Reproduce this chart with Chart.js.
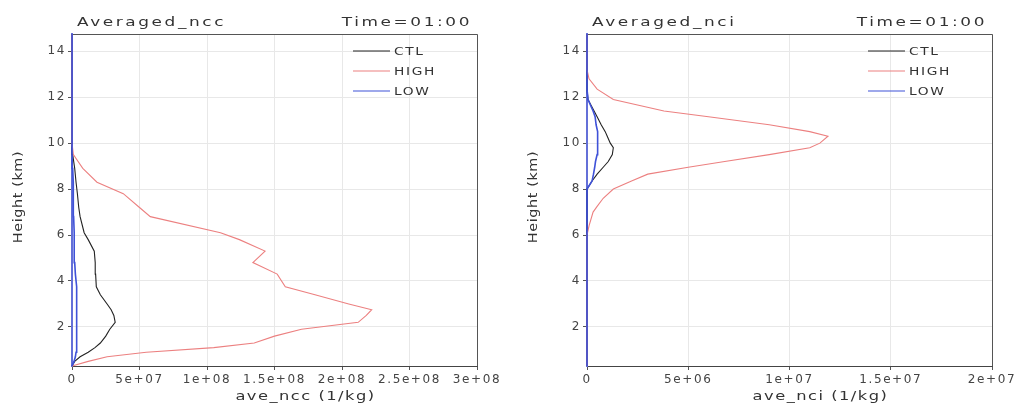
<!DOCTYPE html>
<html>
<head>
<meta charset="utf-8">
<script src="https://cdn.jsdelivr.net/npm/chart.js@4"></script>
<style>
  body { margin: 0; background: #fff; overflow: hidden; }
  .panel { position: absolute; top: 0; width: 511px; height: 412px; }
  #left { left: 0; }
  #right { left: 511px; }
</style>
</head>
<body>
<div class="panel" id="left"><canvas id="ncc" width="511" height="412"></canvas></div>
<div class="panel" id="right"><canvas id="nci" width="511" height="412"></canvas></div>
<script>
// Heights (km) and profiles
const heightsNcc = [0.3, 0.5, 0.7, 0.9, 1.1, 1.3, 1.6, 1.9, 2.2, 2.5, 2.75, 3.0, 3.4, 3.75, 4.3, 4.8, 5.3, 5.8, 6.1, 6.8, 7.2, 7.8, 8.3, 8.9, 9.5, 10.0, 11, 12, 13, 14, 14.75];
const nccCtl  = [0, 2e6, 6e6, 1.2e7, 1.7e7, 2.1e7, 2.5e7, 2.8e7, 3.2e7, 3.1e7, 2.9e7, 2.6e7, 2.1e7, 1.8e7, 1.75e7, 1.72e7, 1.65e7, 1.2e7, 9e6, 6e6, 5e6, 4e6, 3e6, 2e6, 5e5, 0, 0, 0, 0, 0, 0];
const nccHigh = [0, 1.2e7, 2.6e7, 5.5e7, 1.05e8, 1.35e8, 1.5e8, 1.7e8, 2.12e8, 2.18e8, 2.22e8, 2.05e8, 1.8e8, 1.58e8, 1.52e8, 1.34e8, 1.43e8, 1.24e8, 1.1e8, 5.8e7, 5.0e7, 3.8e7, 1.85e7, 8e6, 1e6, 0, 0, 0, 0, 0, 0];
const nccLow  = [0, 1.5e6, 2.5e6, 3e6, 3.5e6, 3.5e6, 3.5e6, 3.5e6, 3.5e6, 3.5e6, 3.5e6, 3.5e6, 3.5e6, 3e6, 2.5e6, 2e6, 1.8e6, 1.6e6, 1.5e6, 1.2e6, 1.1e6, 1e6, 8e5, 5e5, 3e5, 0, 0, 0, 0, 0, 0];

const heightsNci = [0.3, 2, 4, 6, 6.4, 7.0, 7.25, 7.6, 8.0, 8.35, 8.65, 8.95, 9.2, 9.5, 9.8, 10.0, 10.3, 10.5, 10.8, 11.15, 11.4, 11.9, 12.35, 12.8, 13.2, 14, 14.75];
const nciCtl  = [0, 0, 0, 0, 0, 0, 0, 0, 0, 2.5e5, 5e5, 8e5, 1.05e6, 1.25e6, 1.3e6, 1.15e6, 1.0e6, 9e5, 7e5, 5e5, 3.5e5, 5e4, 0, 0, 0, 0, 0];
const nciHigh = [0, 0, 0, 0, 1e5, 3e5, 5e5, 8e5, 1.3e6, 2.2e6, 3.0e6, 5.0e6, 6.8e6, 9.0e6, 1.1e7, 1.15e7, 1.19e7, 1.1e7, 9.0e6, 6.0e6, 3.8e6, 1.3e6, 5e5, 1e5, 0, 0, 0];
const nciLow  = [0, 0, 0, 0, 0, 0, 0, 0, 0, 2.5e5, 3.2e5, 3.8e5, 4.2e5, 5e5, 5.4e5, 5.4e5, 5.2e5, 5e5, 4.5e5, 4e5, 3e5, 5e4, 0, 0, 0, 0, 0];

const seriesNames = ['CTL', 'HIGH', 'LOW'];
const heightTicks = [2, 4, 6, 8, 10, 12, 14];
const heightTickLabels = ['2', '4', '6', '8', '10', '12', '14'];
const nccTicks = [0, 5e7, 1e8, 1.5e8, 2e8, 2.5e8, 3e8];
const nccTickLabels = ['0', '5e+07', '1e+08', '1.5e+08', '2e+08', '2.5e+08', '3e+08'];
const nciTicks = [0, 5e6, 1e7, 1.5e7, 2e7];
const nciTickLabels = ['0', '5e+06', '1e+07', '1.5e+07', '2e+07'];

const lineColors = ['#222222', '#ec8080', '#3f52d8'];
const FONT = '"DejaVu Sans", sans-serif';

// wide, GrADS-like lettering: stretch the glyphs sideways
function wideText(ctx, text, x, y, align, sx, spacing) {
    ctx.save();
    ctx.letterSpacing = spacing + 'px';
    ctx.textAlign = 'left';
    const w = ctx.measureText(text).width * sx;
    let x0 = x;
    if (align === 'center') x0 = x - w / 2;
    if (align === 'right') x0 = x - w;
    ctx.translate(x0, y);
    ctx.scale(sx, 1);
    ctx.fillText(text, 0, 0);
    ctx.restore();
}

// Draws frame, titles, legend and axis titles
const decor = {
    id: 'decor',
    beforeDraw(chart) {
        chart.ctx.letterSpacing = '1.6px';
    },
    beforeDatasetsDraw(chart) {
        const { ctx, chartArea: a } = chart;
        ctx.save();
        ctx.strokeStyle = '#555';
        ctx.lineWidth = 1;
        ctx.beginPath();
        ctx.moveTo(a.left, a.top + 0.5);
        ctx.lineTo(a.right + 0.5, a.top + 0.5);
        ctx.lineTo(a.right + 0.5, a.bottom);
        ctx.stroke();
        ctx.restore();
    },
    afterDraw(chart, args, opts) {
        const { ctx, chartArea: a } = chart;
        ctx.save();
        ctx.fillStyle = '#333';
        ctx.textBaseline = 'alphabetic';

        ctx.font = '13px ' + FONT;
        wideText(ctx, opts.title, a.left + 5, 26, 'left', 1.3, 2);
        wideText(ctx, 'Time=01:00', a.right - 5, 26, 'right', 1.3, 2);

        ctx.textBaseline = 'middle';
        wideText(ctx, opts.xTitle, (a.left + a.right) / 2 + 31, 397, 'center', 1.25, 1.2);

        ctx.save();
        ctx.font = '12px ' + FONT;
        ctx.translate(a.left - 53, (a.top + a.bottom) / 2 - 3);
        ctx.rotate(-Math.PI / 2);
        wideText(ctx, 'Height (km)', 0, 0, 'center', 1.2, 0.5);
        ctx.restore();

        ctx.font = '11px ' + FONT;
        chart.data.datasets.forEach((ds, i) => {
            const y = a.top + 17 + i * 20;
            ctx.strokeStyle = ds.borderColor;
            ctx.lineWidth = 1.2;
            ctx.beginPath();
            ctx.moveTo(a.right - 124, y);
            ctx.lineTo(a.right - 87, y);
            ctx.stroke();
            ctx.fillStyle = '#333';
            wideText(ctx, ds.label, a.right - 83, y + 1, 'left', 1.25, 1.3);
        });
        ctx.restore();
    }
};

function makeProfile(canvasId, heights, profiles, xTicks, xLabels, yWidth, rightPad, title, xTitle) {
    const datasets = profiles.map((vals, i) => ({
        label: seriesNames[i],
        data: vals.map((v, k) => ({ x: v, y: heights[k] })),
        borderColor: lineColors[i],
        borderWidth: i === 2 ? 1.6 : 1.1,
        pointRadius: 0,
        showLine: true,
        tension: 0,
        clip: false,
        order: 2 - i // LOW ends up on top, as in the original
    }));

    return new Chart(document.getElementById(canvasId), {
        type: 'scatter',
        data: { datasets: datasets },
        options: {
            responsive: false,
            animation: false,
            devicePixelRatio: 1,
            layout: { padding: { top: 34, right: rightPad, left: 0, bottom: 0 } },
            plugins: {
                legend: { display: false },
                tooltip: { enabled: false },
                decor: { title: title, xTitle: xTitle }
            },
            scales: {
                x: {
                    type: 'linear',
                    min: xTicks[0],
                    max: xTicks[xTicks.length - 1],
                    afterBuildTicks: s => { s.ticks = xTicks.map(v => ({ value: v })); },
                    afterFit: s => { s.height = 46; },
                    ticks: {
                        autoSkip: false,
                        maxRotation: 0,
                        padding: 3,
                        color: '#444',
                        font: { family: FONT, size: 12 },
                        callback: (v, i) => xLabels[i]
                    },
                    grid: { color: '#e8e8e8', tickColor: '#555', tickLength: 4 },
                    border: { color: '#444', width: 1 }
                },
                y: {
                    type: 'linear',
                    min: 0.3,
                    max: 14.75,
                    afterBuildTicks: s => { s.ticks = heightTicks.map(v => ({ value: v })); },
                    afterFit: s => { s.width = yWidth; },
                    ticks: {
                        autoSkip: false,
                        padding: 2,
                        color: '#444',
                        font: { family: FONT, size: 12 },
                        callback: (v, i) => heightTickLabels[i]
                    },
                    grid: { color: '#e8e8e8', tickColor: '#555', tickLength: 4 },
                    border: { color: '#6470d8', width: 2 }
                }
            }
        },
        plugins: [decor]
    });
}

makeProfile('ncc', heightsNcc, [nccCtl, nccHigh, nccLow], nccTicks, nccTickLabels, 72, 34, 'Averaged_ncc', 'ave_ncc (1/kg)');
makeProfile('nci', heightsNci, [nciCtl, nciHigh, nciLow], nciTicks, nciTickLabels, 76, 30, 'Averaged_nci', 'ave_nci (1/kg)');
</script>
</body>
</html>
